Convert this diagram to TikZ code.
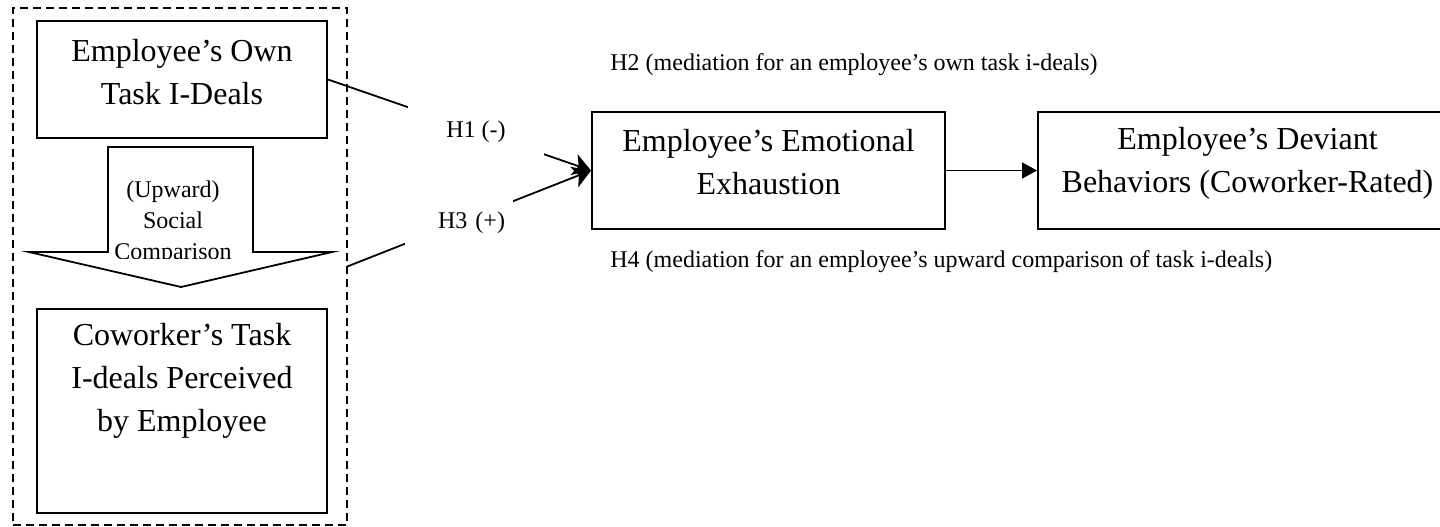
\documentclass[tikz,border=0pt]{standalone}
\usepackage{fontspec}
\setmainfont{Liberation Serif}
\usetikzlibrary{positioning,arrows.meta}

\tikzset{
  box/.style={draw,line width=1pt,inner sep=0pt,anchor=north west},
  boxtext/.style={align=center,inner sep=0pt,font=\fontsize{16pt}{21.5pt}\selectfont},
  small/.style={font=\fontsize{12pt}{15.5pt}\selectfont},
  hlabel/.style={small,fill=white,inner sep=0pt},
  link/.style={line width=0.9pt}
}

\begin{document}
\begin{tikzpicture}[x=0.5pt,y=-0.5pt]
\useasboundingbox (0,0) rectangle (1440,526);
% dashed group on the left
\node[box,line width=0.9pt,dash pattern=on 4pt off 2.5pt,minimum width=167pt,minimum height=258.5pt] (group) at (11.7,7) {};
\node[box,minimum width=145pt,minimum height=58.5pt] (own) at (36,20) {};
\node[boxtext] (owntext) at ([yshift=3.5pt]own.center) {Employee’s Own\\Task I-Deals};
\node[box,minimum width=145pt,minimum height=102pt] (cowork) at (36,308) {};
\node[boxtext] (coworktext) at ([yshift=15pt]cowork.center) {Coworker’s Task\\I-deals Perceived\\by Employee};
% block arrow
\draw[link,fill=white] (108,147) -- (253,147) -- (253,252) -- (332,252) -- (181,287) -- (29,252) -- (108,252) -- cycle;
\begin{scope}
\clip (108,147) rectangle (253,258);
\node[small,align=center,inner sep=0pt] (compare) at (173,223) {(Upward)\\Social\\Comparison};
\end{scope}
% outcome boxes
\node[box,minimum width=176.5pt,minimum height=58.5pt] (emo) at (591,111) {};
\node[boxtext] (emotext) at ([yshift=4pt]emo.center) {Employee’s Emotional\\Exhaustion};
\node[box,minimum width=209.5pt,minimum height=58.5pt] (dev) at (1037,111) {};
\node[boxtext] (devtext) at ([yshift=3.5pt]dev.center) {Employee’s Deviant\\Behaviors (Coworker-Rated)};
% paths
\draw[link,-{Stealth[length=9pt,width=11pt,inset=2.5pt]}] (own.east) -- (emo.west);
\draw[link,-{Stealth[length=9pt,width=11pt,inset=2.5pt]}] (group.east) -- (emo.west);
\draw[link,-{Triangle[length=7.5pt,width=8pt]}] (emo.east) -- (dev.west);
% hypotheses
\node[hlabel,minimum width=68pt,minimum height=26pt] (h1) at (476,132) {H1 (-)};
\node[hlabel,text width=46pt,align=right,inner xsep=4pt,minimum height=27pt] (h3) at (459,223) {H3 (+)};
\node[small,anchor=west,inner sep=0pt] (h2) at (610,65) {H2 (mediation for an employee’s own task i-deals)};
\node[small,anchor=west,inner sep=0pt] (h4) at (610,262) {H4 (mediation for an employee’s upward comparison of task i-deals)};
\end{tikzpicture}
\end{document}
